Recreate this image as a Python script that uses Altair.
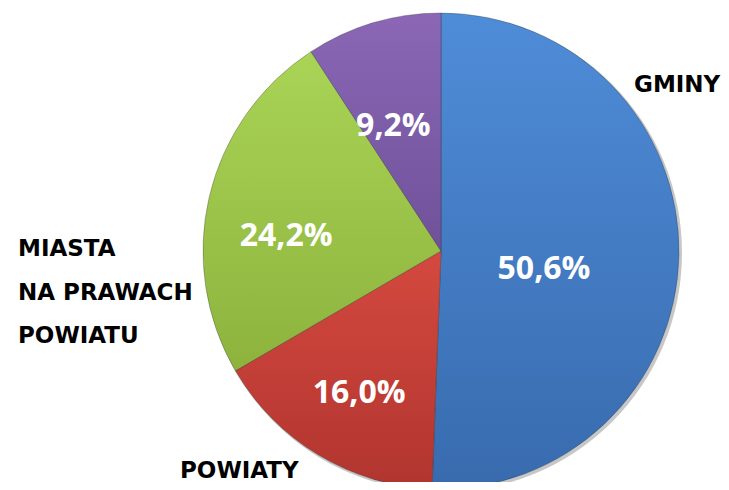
import altair as alt
import pandas as pd

# ---- data ----
categories = ["GMINY", "POWIATY", "MIASTA NA PRAWACH POWIATU", "WOJEWÓDZTWA"]
shares = [50.6, 16.0, 24.2, 9.2]
share_labels = ["50,6%", "16,0%", "24,2%", "9,2%"]
slice_order = [1, 2, 3, 4]
name_lines = [["GMINY"], ["POWIATY"], ["MIASTA", "NA PRAWACH", "POWIATU"], ["WOJEWÓDZTWA"]]

df = pd.DataFrame({
    "cat": categories,
    "share": shares,
    "label": share_labels,
    "order": slice_order,
    "name": name_lines,
})

# ---- styling ----
CX, CY, R = 433, 243, 238
W, H = 713, 474
gradients = {
    "GMINY": ("#4f8cd8", "#386bae"),
    "POWIATY": ("#d4493f", "#b1352f"),
    "MIASTA NA PRAWACH POWIATU": ("#a9d456", "#8db33d"),
    "WOJEWÓDZTWA": ("#8b67b6", "#6f5199"),
}


def grad(top, bottom):
    return {
        "gradient": "linear", "x1": 0, "y1": 0, "x2": 0, "y2": 1,
        "stops": [{"offset": 0, "color": top}, {"offset": 1, "color": bottom}],
    }


fill = alt.when(alt.datum.cat == categories[0]).then(alt.value(grad(*gradients[categories[0]])))
for c in categories[1:3]:
    fill = fill.when(alt.datum.cat == c).then(alt.value(grad(*gradients[c])))
fill = fill.otherwise(alt.value(grad(*gradients[categories[3]])))

theta_scale = alt.Scale(domain=[0, 100])

base = alt.Chart(df)

shadow = alt.Chart(pd.DataFrame({"k": [0]})).mark_arc(
    theta=0, theta2=6.2832, radius=R + 1, fill="#000000", opacity=0.22
).encode(x=alt.value(CX + 2), y=alt.value(CY + 2))

pie = base.mark_arc(radius=R, stroke="#2a2a2a", strokeWidth=0.6, strokeOpacity=0.5).encode(
    theta=alt.Theta("share:Q", stack=True, scale=theta_scale),
    order=alt.Order("order:Q"),
    fill=fill,
    x=alt.value(CX),
    y=alt.value(CY),
)

mid_base = base.transform_window(
    cum="sum(share)", sort=[alt.SortField("order")], frame=[None, 0]
).transform_calculate(mid="datum.cum - datum.share / 2")

# per-label placement: (radius, dx, dy)
pct_place = {
    "GMINY": (103, 0, 16),
    "POWIATY": (165, 3, 1),
    "MIASTA NA PRAWACH POWIATU": (156, -3, 21),
    "WOJEWÓDZTWA": (132, -10, 2),
}

pct_layers = []
for c in categories:
    r, dx, dy = pct_place[c]
    pct_layers.append(
        mid_base.transform_filter(alt.datum.cat == c).mark_text(
            font="Open Sans", fontWeight="bold", fontSize=32, color="white",
            align="center", baseline="middle", radius=r, dx=dx, dy=dy,
        ).encode(
            theta=alt.Theta("mid:Q", stack=None, scale=theta_scale),
            text="label:N",
            x=alt.value(CX),
            y=alt.value(CY),
        )
    )

# outside category names: (x, y of first baseline, align)
name_place = {
    "GMINY": (626, 84, "left"),
    "POWIATY": (172, 470, "left"),
    "MIASTA NA PRAWACH POWIATU": (10, 248, "left"),
    "WOJEWÓDZTWA": (342, -6, "center"),
}
name_layers = []
for c in categories:
    x, y, al = name_place[c]
    name_layers.append(
        base.transform_filter(alt.datum.cat == c).mark_text(
            font="DejaVu Sans", fontWeight="bold", fontSize=23, color="#000000",
            align=al, baseline="alphabetic", lineHeight=43.5,
        ).encode(text="name:N", x=alt.value(x), y=alt.value(y))
    )

chart = alt.layer(shadow, pie, *pct_layers, *name_layers).properties(
    width=W, height=H,
    autosize=alt.AutoSizeParams(type="none"),
    padding=0,
).configure_view(stroke=None)

chart.save("out.html", embed_options={"renderer": "svg", "actions": False})
